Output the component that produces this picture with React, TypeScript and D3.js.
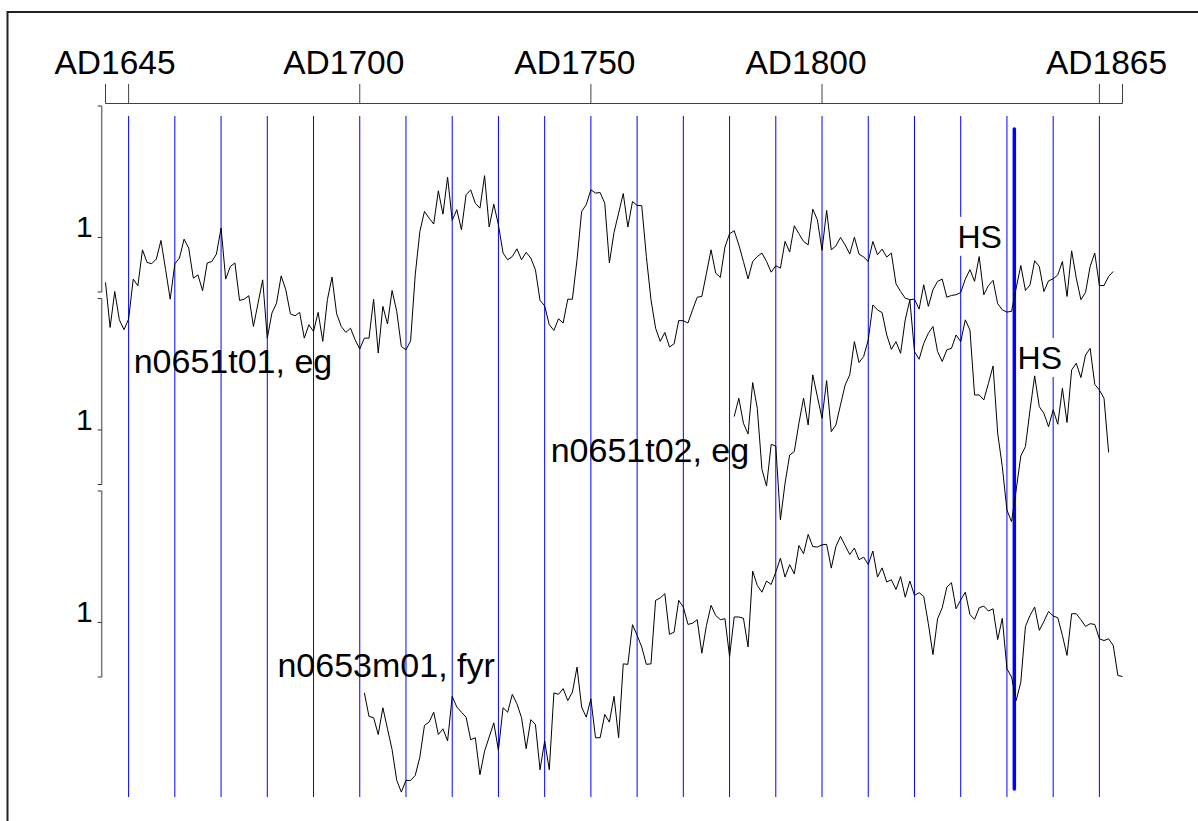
import * as d3 from "d3";
import { useMemo } from "react";

// top time axis
const axisLabels = ["AD1645", "AD1700", "AD1750", "AD1800", "AD1865"];
const axisLabelYears = [1645, 1700, 1750, 1800, 1865];
const axisTickYears = [1645, 1650, 1700, 1750, 1800, 1860, 1865];
const gridYears = [1650, 1660, 1670, 1680, 1690, 1700, 1710, 1720, 1730, 1740, 1750, 1760, 1770, 1780, 1790, 1800, 1810, 1820, 1830, 1840, 1850, 1860];

// series (index values, one per year from the start year)
const seriesNames = ["n0651t01, eg", "n0651t02, eg", "n0653m01, fyr"];
const seriesStart = [1645, 1781, 1701];

const t01Values = [
  0.819, 0.637, 0.782, 0.668, 0.628,
  0.671, 0.832, 0.805, 0.950, 0.899, 0.894, 0.913, 0.988, 0.870, 0.751,
  0.894, 0.917, 0.993, 0.957, 0.836, 0.849, 0.785, 0.897, 0.903, 0.933,
  1.038, 0.832, 0.883, 0.897, 0.746, 0.751, 0.765, 0.641, 0.735, 0.829,
  0.594, 0.695, 0.735, 0.845, 0.789, 0.692, 0.684, 0.698, 0.594, 0.648,
  0.621, 0.698, 0.581, 0.749, 0.840, 0.692, 0.641, 0.617, 0.634, 0.587,
  0.550, 0.594, 0.594, 0.751, 0.534, 0.722, 0.651, 0.786, 0.702, 0.560,
  0.547, 0.583, 0.849, 1.024, 1.105, 1.078, 1.054, 1.188, 1.094, 1.243,
  1.069, 1.112, 1.031, 1.172, 1.192, 1.138, 1.118, 1.249, 1.042, 1.134,
  1.051, 0.937, 0.910, 0.923, 0.954, 0.910, 0.940, 0.917, 0.870, 0.746,
  0.724, 0.648, 0.625, 0.672, 0.655, 0.751, 0.751, 0.910, 1.105, 1.132,
  1.192, 1.179, 1.181, 1.138, 0.897, 1.020, 1.098, 1.177, 1.042, 1.145,
  1.129, 1.128, 0.923, 0.749, 0.634, 0.581, 0.617, 0.558, 0.571, 0.665,
  0.664, 0.655, 0.708, 0.759, 0.762, 0.856, 0.950, 0.856, 0.839, 0.961,
  1.015, 1.027, 0.970, 0.903, 0.833, 0.903, 0.923, 0.937, 0.903, 0.860,
  0.886, 0.876, 0.984, 0.941, 1.047, 1.015, 0.984, 0.970, 1.114, 1.071,
  0.948, 1.109, 0.950, 0.966, 1.000, 0.970, 0.933, 1.001, 0.933, 0.921,
  0.903, 0.984, 0.930, 0.953, 0.921, 0.937, 0.813, 0.782, 0.755, 0.749,
  0.751, 0.711, 0.809, 0.722, 0.789, 0.823, 0.832, 0.759, 0.766, 0.769,
  0.778, 0.832, 0.870, 0.823, 0.923, 0.769, 0.806, 0.827, 0.733, 0.708,
  0.699, 0.702, 0.796, 0.887, 0.786, 0.809, 0.906, 0.883, 0.782, 0.825,
  0.833, 0.849, 0.903, 0.762, 0.946, 0.836, 0.749, 0.778, 0.883, 0.937,
  0.806, 0.806, 0.843, 0.863,
];

const t02Values = [
  1.054, 1.128, 1.027, 0.984, 1.191, 1.087, 0.841, 0.774, 0.942,
  0.935, 0.637, 0.785, 0.899, 0.913, 1.027, 1.128, 1.020, 1.222, 1.134,
  1.047, 1.199, 0.993, 1.020, 1.101, 1.181, 1.222, 1.356, 1.272, 1.296,
  1.363, 1.504, 1.484, 1.473, 1.383, 1.325, 1.356, 1.309, 1.444, 1.524,
  1.316, 1.285, 1.349, 1.390, 1.417, 1.316, 1.276, 1.323, 1.329, 1.383,
  1.356, 1.444, 1.403, 1.141, 1.141, 1.121, 1.188, 1.258, 0.987, 0.852,
  0.677, 0.630, 0.758, 0.895, 0.933, 1.081, 1.218, 1.094, 1.067, 1.013,
  1.081, 1.023, 1.168, 1.030, 1.242, 1.269, 1.211, 1.302, 1.329, 1.184,
  1.161, 1.128, 0.909,
];

const m01Values = [
  0.716, 0.621, 0.616, 0.548, 0.656, 0.571, 0.487, 0.363, 0.316,
  0.363, 0.363, 0.383, 0.457, 0.585, 0.598, 0.638, 0.548, 0.571, 0.522,
  0.702, 0.659, 0.638, 0.618, 0.527, 0.535, 0.386, 0.481, 0.538, 0.595,
  0.484, 0.656, 0.638, 0.710, 0.672, 0.616, 0.491, 0.608, 0.589, 0.406,
  0.522, 0.406, 0.716, 0.710, 0.733, 0.685, 0.719, 0.820, 0.659, 0.618,
  0.692, 0.535, 0.535, 0.629, 0.598, 0.702, 0.535, 0.833, 0.831, 0.991,
  0.948, 0.901, 0.831, 0.833, 1.089, 1.099, 1.116, 0.952, 0.961, 1.089,
  1.062, 0.992, 0.997, 1.011, 0.876, 0.988, 1.069, 1.028, 1.011, 1.015,
  0.863, 1.022, 1.022, 1.017, 0.901, 1.207, 1.149, 1.122, 1.167, 1.153,
  1.203, 1.259, 1.183, 1.233, 1.196, 1.310, 1.277, 1.355, 1.306, 1.304,
  1.313, 1.315, 1.219, 1.306, 1.347, 1.310, 1.274, 1.300, 1.253, 1.263,
  1.234, 1.288, 1.183, 1.220, 1.163, 1.172, 1.133, 1.185, 1.102, 1.167,
  1.109, 1.120, 1.105, 0.995, 0.870, 1.015, 1.059, 1.142, 1.160, 1.055,
  1.091, 1.122, 1.032, 1.012, 1.059, 1.066, 1.046, 1.055, 0.931, 1.017,
  0.813, 0.780, 0.685, 0.759, 0.984, 1.028, 1.062, 0.968, 1.004, 1.044,
  1.026, 1.019, 0.948, 0.867, 1.035, 1.035, 1.011, 0.984, 0.995, 0.992,
  0.934, 0.927, 0.934, 0.907, 0.786, 0.782,
];

const seriesValues = [t01Values, t02Values, m01Values];

// where each series name sits (year, index value in its own panel)
const nameYears = [1651.1, 1741.3, 1682.2];
const nameValues = [0.454, 0.872, 0.779];

// heartwood/sapwood boundary
const hsYear = 1841.6;
const hsPanels = [0, 1];
const hsYears = [1829.3, 1842.3];
const hsValues = [0.958, 1.246];

const width = 1198;
const height = 821;
const xRange = [105.5, 1122.5];
const axisY = 103.5;
const panelTop = 106;
const panelHeight = 186;
const panelStep = 192.5;
const indexDomain = [0.78, 1.53];
const font = "'Liberation Sans', Arial, Helvetica, sans-serif";

export default function App() {
  const chart = useMemo(() => {
    const xScale = d3.scaleLinear().domain([1645, 1865]).range(xRange);
    const yScales = seriesValues.map((_, i) =>
      d3
        .scaleLinear()
        .domain(indexDomain)
        .range([panelTop + i * panelStep + panelHeight, panelTop + i * panelStep]),
    );
    const paths = seriesValues.map((values, i) =>
      d3
        .line<number>()
        .x((_, j) => xScale(seriesStart[i] + j))
        .y((v) => yScales[i](v))(values),
    );
    return { xScale, yScales, paths };
  }, []);

  const { xScale, yScales, paths } = chart;
  const yAxisX = 101.7;

  return (
    <div style={{ position: "absolute", left: 0, top: 0, width, height, overflow: "hidden", background: "#fff" }}>
      <svg width={width} height={height} viewBox={`0 0 ${width} ${height}`} style={{ display: "block", fontFamily: font }}>
        <rect x={7.5} y={12} width={1400} height={1000} fill="#fff" stroke="#222" strokeWidth={2} />

        {/* top axis */}
        <line x1={xRange[0]} x2={xRange[1]} y1={axisY} y2={axisY} stroke="#404040" strokeWidth={1} />
        {axisTickYears.map((year) => (
          <line key={`t-${year}`} x1={xScale(year)} x2={xScale(year)} y1={axisY} y2={84} stroke="#404040" strokeWidth={1} />
        ))}
        {axisLabels.map((label, i) => (
          <text key={label} x={Math.max(xScale(axisLabelYears[i]) - 16, 115)} y={74} textAnchor="middle" fontSize={33.5} fill="#000">
            {label}
          </text>
        ))}

        {/* decade grid */}
        {gridYears.map((year) => (
          <line key={`g-${year}`} x1={xScale(year)} x2={xScale(year)} y1={116} y2={797} stroke="#0000ff" strokeWidth={1} />
        ))}

        {/* panel axes */}
        {yScales.map((y, i) => {
          const [lo, hi] = y.range();
          return (
            <g key={`ax-${i}`}>
              <line x1={yAxisX} x2={yAxisX} y1={lo} y2={hi} stroke="#7a7a7a" strokeWidth={1.5} />
              {[indexDomain[0], 1, indexDomain[1]].map((v) => (
                <line key={v} x1={yAxisX - 4} x2={yAxisX} y1={y(v)} y2={y(v)} stroke="#333" strokeWidth={1} />
              ))}
              <text x={yAxisX - 9} y={y(1)} textAnchor="end" fontSize={30} fill="#000">
                1
              </text>
            </g>
          );
        })}

        {/* HS labels with white backing */}
        {hsPanels.map((p, i) => {
          const x = xScale(hsYears[i]);
          const y = yScales[p](hsValues[i]);
          return (
            <g key={`hs-${i}`}>
              <rect x={x - 3} y={y - 31} width={50} height={39} fill="#fff" />
              <text x={x} y={y} fontSize={32} fill="#000">
                HS
              </text>
            </g>
          );
        })}

        <line x1={xScale(hsYear)} x2={xScale(hsYear)} y1={129} y2={789} stroke="#0000ff" strokeWidth={3.5} strokeLinecap="round" />

        {paths.map((d, i) => (
          <path key={`s-${i}`} d={d ?? ""} fill="none" stroke="#000" strokeWidth={1} strokeLinejoin="round" />
        ))}

        {seriesNames.map((name, i) => (
          <text key={name} x={xScale(nameYears[i])} y={yScales[i](nameValues[i])} fontSize={34} fill="#000">
            {name}
          </text>
        ))}
      </svg>
    </div>
  );
}
